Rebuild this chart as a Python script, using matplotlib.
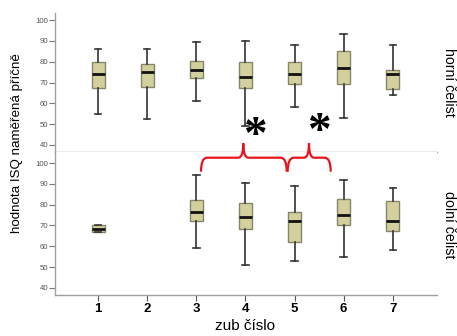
import matplotlib.pyplot as plt
from matplotlib.path import Path
from matplotlib.patches import PathPatch

plt.rcParams['font.family'] = ['Liberation Sans', 'DejaVu Sans']

teeth = [1, 2, 3, 4, 5, 6, 7]

# horni celist (upper jaw)
upper_lo = [55, 52.3, 61.2, 49.2, 58.2, 53, 63.9]
upper_q1 = [67.6, 68, 72.4, 67.2, 69.1, 69.1, 66.7]
upper_med = [74.2, 75.3, 76.1, 72.8, 74, 77.1, 74.2]
upper_q3 = [79.7, 79, 80.6, 80.1, 80.1, 85.1, 76.1]
upper_hi = [86, 86, 89.3, 90.2, 88.3, 93.3, 88.3]

# dolni celist (lower jaw), no data for tooth 2
lower_lo = [67.0, None, 59, 50.9, 53.1, 54.9, 58]
lower_q1 = [67.0, None, 72, 68.5, 61.9, 70.4, 67.2]
lower_med = [68.5, None, 76.3, 74.2, 72.2, 75, 72.2]
lower_q3 = [70.1, None, 82.1, 80.8, 76.3, 82.6, 81.9]
lower_hi = [70.1, None, 94.4, 90.3, 89.1, 92, 88.1]

y_ticks = [40, 50, 60, 70, 80, 90, 100]

box_fill = '#d4d09e'
box_edge = '#86866a'
spine_col = '#a0a0a0'


def make_stats(lo, q1, med, q3, hi):
    stats, pos = [], []
    for t, a, b, c, d, e in zip(teeth, lo, q1, med, q3, hi):
        if c is None:
            continue
        stats.append(dict(whislo=a, q1=b, med=c, q3=d, whishi=e, fliers=[]))
        pos.append(t)
    return stats, pos


def draw_panel(ax, stats, pos, ylim):
    ax.bxp(stats, positions=pos, widths=0.26, patch_artist=True,
           showfliers=False, capwidths=0.13,
           boxprops=dict(facecolor=box_fill, edgecolor=box_edge, linewidth=1),
           medianprops=dict(color='#111111', linewidth=2),
           whiskerprops=dict(color='#333333', linewidth=1.2),
           capprops=dict(color='#333333', linewidth=1.2))
    ax.set_xlim(0.12, 7.9)
    ax.set_ylim(*ylim)
    ax.set_yticks(y_ticks)
    ax.tick_params(axis='y', labelsize=5.6, labelcolor='#555555', color='#777777',
                   length=4, width=0.8, pad=1)
    for s in ['top', 'right']:
        ax.spines[s].set_visible(False)
    for s in ['left', 'bottom']:
        ax.spines[s].set_color(spine_col)
        ax.spines[s].set_linewidth(1)


fig = plt.figure(figsize=(4.57, 3.36), dpi=100)
ax_top = fig.add_axes([0.1204, 0.5476, 0.8356, 0.4134])
ax_bot = fig.add_axes([0.1204, 0.122, 0.8356, 0.4256])

st, ps = make_stats(upper_lo, upper_q1, upper_med, upper_q3, upper_hi)
draw_panel(ax_top, st, ps, (36.6, 103.4))
ax_top.set_xticks([])

st, ps = make_stats(lower_lo, lower_q1, lower_med, lower_q3, lower_hi)
draw_panel(ax_bot, st, ps, (36.6, 105.3))
ax_bot.set_xticks(teeth)
ax_bot.set_xticklabels([str(t) for t in teeth], fontsize=9.5, fontweight='bold')
ax_bot.tick_params(axis='x', color='#555555', length=4, width=0.8, pad=2)

# overlay in pixel coordinates for labels and the significance braces
ov = fig.add_axes([0, 0, 1, 1], zorder=5)
ov.set_xlim(0, 457)
ov.set_ylim(336, 0)
ov.axis('off')

ov.text(17, 143.5, 'hodnota ISQ naměřená příčně', rotation=90,
        ha='center', va='center', fontsize=9.6)
ov.text(449, 82, 'horní čelist', rotation=270, ha='center', va='center', fontsize=10.2)
ov.text(449, 225, 'dolní čelist', rotation=270, ha='center', va='center', fontsize=10.2)
ov.text(245, 326, 'zub číslo', ha='center', va='center', fontsize=11)


def brace(x0, x1, xc, yb=171.7, yh=157.7, yt=143.3, r=6, rc=5):
    verts = [(x0, yb), (x0, yh), (x0 + r, yh), (xc - rc, yh), (xc, yh), (xc, yt),
             (xc, yh), (xc + rc, yh), (x1 - r, yh), (x1, yh), (x1, yb)]
    codes = [Path.MOVETO, Path.CURVE3, Path.CURVE3, Path.LINETO, Path.CURVE3, Path.CURVE3,
             Path.CURVE3, Path.CURVE3, Path.LINETO, Path.CURVE3, Path.CURVE3]
    ov.add_patch(PathPatch(Path(verts, codes), fill=False, edgecolor='#e8141c', lw=1.6))


brace(201, 286.7, 243.3)
brace(287.7, 330.7, 309)

ov.text(255, 137, '*', ha='center', va='center', fontsize=34, fontweight='bold',
        family='Liberation Serif')
ov.text(319, 133, '*', ha='center', va='center', fontsize=34, fontweight='bold',
        family='Liberation Serif')

fig.savefig('out.png', dpi=100)
